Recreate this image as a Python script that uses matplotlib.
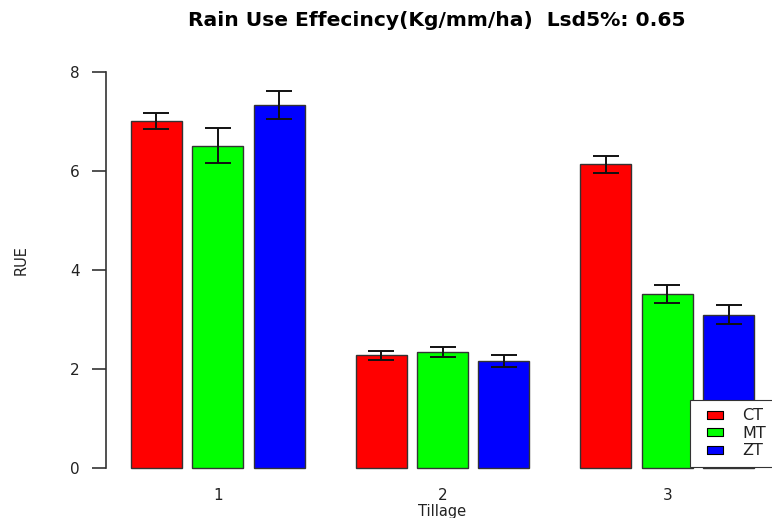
import numpy as np
import matplotlib
matplotlib.use("Agg")
import matplotlib.pyplot as plt
from matplotlib.lines import Line2D

plt.rcParams['font.family'] = ['DejaVu Sans']

# mean RUE per tillage group, one list per treatment
tillage = ['1', '2', '3']
treatments = ['CT', 'MT', 'ZT']
ct = [7.00, 2.28, 6.13]
mt = [6.51, 2.34, 3.52]
zt = [7.33, 2.17, 3.10]
ct_err = [0.16, 0.09, 0.17]
mt_err = [0.36, 0.10, 0.18]
zt_err = [0.28, 0.12, 0.20]
colors = ['#ff0000', '#00ff00', '#0000ff']

fig = plt.figure(figsize=(7.72, 5.18), dpi=100)
W, H = 772, 518
# plot region runs a little past the right edge of the figure
ax = fig.add_axes([106 / W, (H - 484) / H, (779 - 106) / W, (484 - 56) / H])

# barplot(beside=TRUE, space=c(0.2, 1)) layout: width 1, 0.2 within groups, 1 between
width, inner, outer = 1.0, 0.2, 1.0
group_w = 3 * width + 2 * inner + outer
series = [ct, mt, zt]
errors = [ct_err, mt_err, zt_err]
for j, (vals, errs, col) in enumerate(zip(series, errors, colors)):
    x = np.array([outer + g * group_w + j * (width + inner) + width / 2 for g in range(3)])
    ax.bar(x, vals, width=width, color=col, edgecolor='#333333', linewidth=1.0)
    ax.errorbar(x, vals, yerr=errs, fmt='none', ecolor='#111111', elinewidth=1.4,
                capsize=9.4, capthick=1.4)

centers = [outer + g * group_w + 1.5 * width + inner for g in range(3)]
ax.set_xlim(0.512, 13.688)
ax.set_ylim(-0.32, 8.32)

for side in ['top', 'right', 'bottom']:
    ax.spines[side].set_visible(False)
ax.spines['left'].set_bounds(0, 8)
ax.spines['left'].set_color('#333333')
ax.spines['left'].set_linewidth(1.2)

ax.set_yticks([0, 2, 4, 6, 8])
ax.tick_params(axis='y', length=10, width=1.2, color='#333333', pad=9,
               labelsize=11, labelcolor='#222222')
ax.set_xticks(centers)
ax.set_xticklabels(tillage)
ax.tick_params(axis='x', length=0, pad=3, labelsize=11, labelcolor='#222222')

ax.set_xlabel('Tillage', fontsize=10.5, labelpad=0.5, color='#222222')
ax.set_ylabel('RUE', fontsize=10.5, color='#222222')
ax.yaxis.set_label_coords((29 - 106) / 673, (484 - 260) / 428)

# fixed y keeps the title where it is put, not auto-placed
ax.set_title('Rain Use Effecincy(Kg/mm/ha)  Lsd5%: 0.65', fontsize=14.6,
             fontweight='bold', x=(437 - 106) / 673, y=(484 - 20) / 428,
             va='center', pad=0)

marker = [(-1, -0.5), (1, -0.5), (1, 0.5), (-1, 0.5), (-1, -0.5)]
handles = [Line2D([], [], linestyle='none', marker=marker, markersize=11,
                  markerfacecolor=c, markeredgecolor='black', markeredgewidth=0.8)
           for c in colors]
leg = ax.legend(handles, treatments, loc='lower left',
                bbox_to_anchor=(690 / W, (H - 467) / H), bbox_transform=fig.transFigure,
                frameon=True, fancybox=False, edgecolor='#333333', framealpha=1,
                fontsize=11.5, borderpad=0.55, handlelength=2.0, handletextpad=0.7,
                labelspacing=0.15, borderaxespad=0)
leg.get_frame().set_linewidth(0.8)
for t in leg.get_texts():
    t.set_color('#222222')

fig.savefig('out.png', dpi=100)
